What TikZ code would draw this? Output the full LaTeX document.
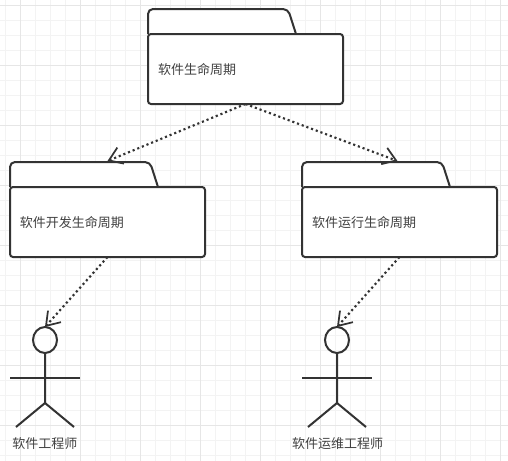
\documentclass[tikz,border=0pt]{standalone}
\usepackage{fontspec}
\usepackage{xcolor}
\setmainfont{Noto Sans CJK SC}
\usetikzlibrary{positioning,arrows.meta,shapes.geometric,calc}
\definecolor{umlline}{HTML}{333333}
\definecolor{umltext}{HTML}{404040}
\definecolor{gridminor}{HTML}{F3F3F3}
\definecolor{gridmajor}{HTML}{E6E6E6}
\begin{document}
\begin{tikzpicture}[
  x=0.75pt,y=-0.75pt,
  pkg/.style={draw=umlline,line width=1.5pt,rounded corners=2.25pt,fill=white,minimum width=146.25pt,minimum height=52.5pt,text width=131.25pt,inner xsep=7.5pt,inner ysep=0pt,outer sep=0pt,align=left,text=umltext,text depth=0pt,font=\fontsize{9.75pt}{11pt}\selectfont},
  tab/.style={draw=umlline,line width=1.5pt,fill=white,rounded corners=3.75pt},
  head/.style={ellipse,draw=umlline,line width=1.5pt,minimum width=18pt,minimum height=19.5pt,inner sep=0pt,outer sep=0pt},
  limb/.style={draw=umlline,line width=1.5pt},
  actorname/.style={text=umltext,text depth=0pt,font=\fontsize{9.75pt}{11pt}\selectfont,inner sep=0pt},
  dep/.style={umlline,line width=1.6pt,dash pattern=on 1.6pt off 2.15pt,-{Straight Barb[length=9.5pt,width=13pt,line width=1.3pt]}}
]
\fill[white] (0,0) rectangle (508,461);
\useasboundingbox (0,0) rectangle (508,461);
% grid
\foreach \i in {0,...,33} \draw[gridminor,line width=0.75pt] (5.6+15*\i,0) -- (5.6+15*\i,461);
\foreach \i in {0,...,30} \draw[gridminor,line width=0.75pt] (0,5.7+15*\i) -- (508,5.7+15*\i);
\foreach \i in {0,...,8} \draw[gridmajor,line width=0.75pt] (20.6+60*\i,0) -- (20.6+60*\i,461);
\foreach \i in {0,...,7} \draw[gridmajor,line width=0.75pt] (0,5.7+60*\i) -- (508,5.7+60*\i);
% packages
\foreach \p/\q/\r in {life/245.5/69,dev/107.5/222,ops/399.5/222}
  \draw[tab] (\q-97.5,\r-35) -- ++(0,-25) -- ++(140,0) -- ++(8,25);
\node[pkg] (life) at (245.5,69) {软件生命周期};
\node[pkg] (dev) at (107.5,222) {软件开发生命周期};
\node[pkg] (ops) at (399.5,222) {软件运行生命周期};
% actors
\node[head] (dever) at (45,340) {};
\node[head] (oper) at (337,340) {};
\foreach \a in {dever,oper} {
  \draw[limb] (\a.south) -- ++(0,50) coordinate (\a hip) -- ++(-29,24);
  \draw[limb] (\a hip) -- ++(29,24);
  \draw[limb] ($(\a.south)+(-35,25)$) -- ++(70,0);
}
\node[actorname] (devname) at (45,443) {软件工程师};
\node[actorname] (opsname) at (337.5,443) {软件运维工程师};
% dependencies
\coordinate (devtop) at ($(dev.north)+(0,-26)$);
\coordinate (opstop) at ($(ops.north)+(-2,-26)$);
\draw[dep] (life.south) -- (devtop);
\draw[dep] (life.south) -- (opstop);
\draw[dep] (dev.south) -- (dever.north);
\draw[dep] (ops.south) -- (oper.north);
\end{tikzpicture}
\end{document}
